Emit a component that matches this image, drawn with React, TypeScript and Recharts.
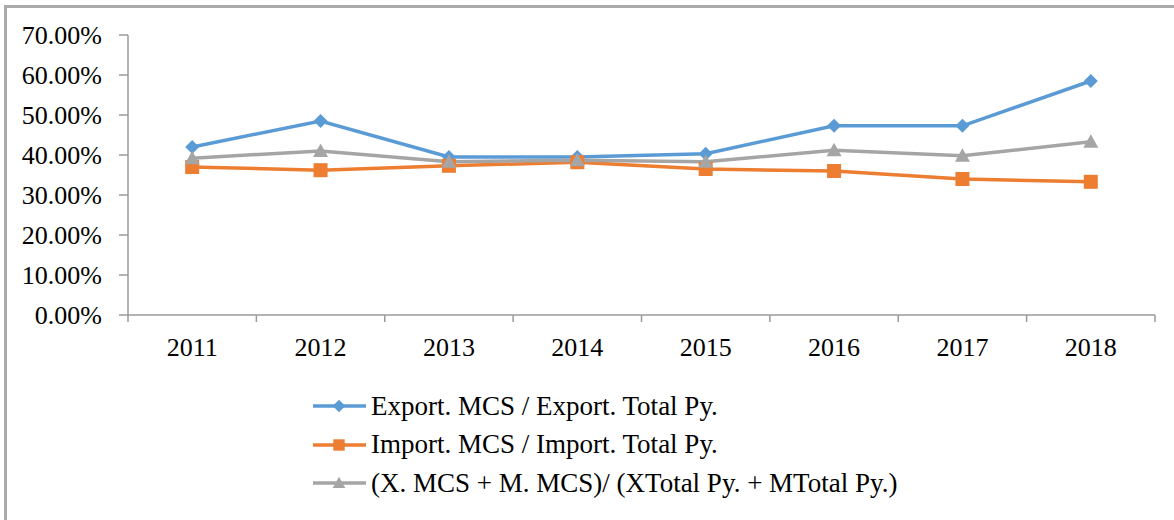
import React from 'react';
import { LineChart, Line, XAxis, YAxis, Legend } from 'recharts';

const years = ['2011', '2012', '2013', '2014', '2015', '2016', '2017', '2018'];
const exportShare = [0.42, 0.485, 0.395, 0.395, 0.403, 0.473, 0.473, 0.585];
const importShare = [0.37, 0.362, 0.373, 0.382, 0.365, 0.36, 0.34, 0.333];
const combinedShare = [0.392, 0.41, 0.383, 0.387, 0.383, 0.412, 0.398, 0.433];
const yTicks = [0, 0.1, 0.2, 0.3, 0.4, 0.5, 0.6, 0.7];

const seriesNames = [
  'Export. MCS / Export. Total Py.',
  'Import. MCS / Import. Total Py.',
  '(X. MCS + M. MCS)/ (XTotal Py. + MTotal Py.)',
];
const colors = ['#5B9BD5', '#ED7D31', '#A5A5A5'];

const data = years.map((y, i) => ({
  year: y,
  exp: exportShare[i],
  imp: importShare[i],
  comb: combinedShare[i],
}));

const FONT = '"Liberation Serif", "Times New Roman", serif';
const AXIS = '#9a9a9a';
const W = 1174;
const H = 520;
const M = { top: 35, right: 19, left: 0, bottom: 165 };
const YW = 128;
const BAND = (W - M.left - M.right - YW) / years.length;

const markerShape = (kind: number, cx: number, cy: number, s: number, color: string) => {
  if (kind === 0) {
    return <polygon points={`${cx},${cy - s} ${cx + s},${cy} ${cx},${cy + s} ${cx - s},${cy}`} fill={color} />;
  }
  if (kind === 1) {
    return <rect x={cx - s} y={cy - s} width={2 * s} height={2 * s} fill={color} />;
  }
  return <polygon points={`${cx},${cy - s} ${cx + s},${cy + s * 0.8} ${cx - s},${cy + s * 0.8}`} fill={color} />;
};

const makeDot = (kind: number, s: number) => (props: any) => {
  const { cx, cy, index } = props;
  if (cx == null || cy == null) return <g key={`d${kind}-${index}`} />;
  return <g key={`d${kind}-${index}`}>{markerShape(kind, cx, cy, s, colors[kind])}</g>;
};

const XTick = (props: any) => {
  const { x, y, payload, index } = props;
  const axisY = y - 23;
  return (
    <g>
      <line x1={x - BAND / 2} x2={x - BAND / 2} y1={axisY} y2={axisY + 7} stroke={AXIS} strokeWidth={1.5} />
      {index === years.length - 1 && (
        <line x1={x + BAND / 2} x2={x + BAND / 2} y1={axisY} y2={axisY + 7} stroke={AXIS} strokeWidth={1.5} />
      )}
      <text x={x} y={y} dy="0.71em" textAnchor="middle" fill="#000" fontSize={26} fontFamily={FONT}>
        {payload.value}
      </text>
    </g>
  );
};

const LegendContent = () => (
  <div style={{ fontFamily: FONT, fontSize: 27, color: '#000' }}>
    {seriesNames.map((name, i) => (
      <div key={name} style={{ display: 'flex', alignItems: 'center', height: 38.5 }}>
        <svg width={57} height={38} style={{ display: 'block' }}>
          <line x1={1} x2={54} y1={19} y2={19} stroke={colors[i]} strokeWidth={3.5} />
          {markerShape(i, 27, 19, i === 1 ? 5.7 : 6.3, colors[i])}
        </svg>
        <span style={{ marginLeft: 2, whiteSpace: 'nowrap' }}>{name}</span>
      </div>
    ))}
  </div>
);

export default function App() {
  return (
    <div style={{ position: 'absolute', left: 0, top: 0, width: W, height: H, overflow: 'hidden', background: '#fff' }}>
      <div
        style={{
          position: 'absolute',
          left: 4,
          top: 5,
          width: W + 40,
          height: H + 40,
          boxSizing: 'border-box',
          border: '3px solid #aaaaaa',
        }}
      />
      <div style={{ position: 'absolute', left: 0, top: 0 }}>
        <LineChart width={W} height={H} data={data} margin={M}>
          <XAxis
            dataKey="year"
            tickLine={false}
            tickSize={7}
            tickMargin={16}
            height={40}
            padding={{ left: BAND / 2, right: BAND / 2 }}
            axisLine={{ stroke: AXIS, strokeWidth: 1.5 }}
            tick={<XTick />}
            interval={0}
          />
          <YAxis
            width={YW}
            domain={[0, 0.7]}
            ticks={yTicks}
            interval={0}
            tickFormatter={(v: number) => (v * 100).toFixed(2) + '%'}
            tickSize={9}
            tickMargin={17}
            axisLine={{ stroke: AXIS, strokeWidth: 1.5 }}
            tickLine={{ stroke: AXIS, strokeWidth: 1.5 }}
            tick={{ fill: '#000', fontSize: 26, fontFamily: FONT }}
          />
          <Line
            dataKey="exp"
            name={seriesNames[0]}
            stroke={colors[0]}
            strokeWidth={3.5}
            dot={makeDot(0, 7)}
            activeDot={false}
            isAnimationActive={false}
          />
          <Line
            dataKey="imp"
            name={seriesNames[1]}
            stroke={colors[1]}
            strokeWidth={3.5}
            dot={makeDot(1, 7)}
            activeDot={false}
            isAnimationActive={false}
          />
          <Line
            dataKey="comb"
            name={seriesNames[2]}
            stroke={colors[2]}
            strokeWidth={3.5}
            dot={makeDot(2, 7.5)}
            activeDot={false}
            isAnimationActive={false}
          />
          <Legend
            layout="vertical"
            align="center"
            verticalAlign="middle"
            content={<LegendContent />}
            wrapperStyle={{ left: 312, top: 387, width: 700, height: 'auto' }}
          />
        </LineChart>
      </div>
    </div>
  );
}
